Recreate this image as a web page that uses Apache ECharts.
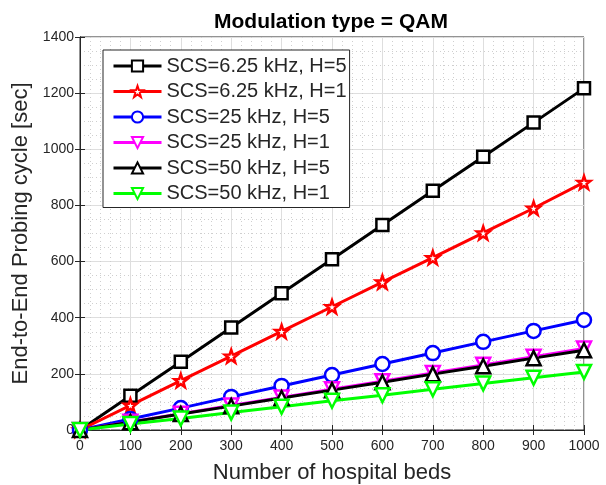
<!DOCTYPE html>
<html>
<head>
<meta charset="utf-8">
<script src="https://cdn.jsdelivr.net/npm/echarts@6/dist/echarts.min.js"></script>
<style>
  html, body { margin: 0; padding: 0; background: #fff; }
  #chart { width: 606px; height: 485px; }
</style>
</head>
<body>
<div id="chart"></div>
<script>
// hospital beds on x axis
var beds = [0, 100, 200, 300, 400, 500, 600, 700, 800, 900, 1000];
var yTicks = [0, 200, 400, 600, 800, 1000, 1200, 1400];

var seriesNames = [
  "SCS=6.25 kHz, H=5",
  "SCS=6.25 kHz, H=1",
  "SCS=25 kHz, H=5",
  "SCS=25 kHz, H=1",
  "SCS=50 kHz, H=5",
  "SCS=50 kHz, H=1"
];
var scs625h5 = [0, 122, 243, 365, 487, 608, 730, 852, 973, 1095, 1217];
var scs625h1 = [0, 88, 176, 263, 351, 439, 527, 614, 702, 790, 882];
var scs25h5 = [0, 39, 78, 118, 157, 196, 235, 274, 314, 353, 392];
var scs25h1 = [0, 29, 58, 87, 116, 145, 174, 203, 232, 261, 290];
var scs50h5 = [0, 28, 57, 85, 114, 142, 170, 199, 227, 256, 284];
var scs50h1 = [0, 21, 41, 62, 83, 104, 124, 145, 166, 186, 207];

var colors = ["#000000", "#ff0000", "#0000ff", "#ff00ff", "#000000", "#00ff00"];
var starPath = "path://M0,-100L23.5,-32.4L95.1,-30.9L38,12.4L58.8,80.9L0,40L-58.8,80.9L-38,12.4L-95.1,-30.9L-23.5,-32.4Z";
var downTri = "path://M0,0L10,0L5,8.7Z";
var symbols = ["rect", starPath, "circle", downTri, "triangle", downTri];
var sizes = [12, 13, 14, 14, 14, 14];
var allData = [scs625h5, scs625h1, scs25h5, scs25h1, scs50h5, scs50h1];

var txt = "#262626";
var font = "Liberation Sans, Arial, sans-serif";

var series = allData.map(function (vals, i) {
  return {
    name: seriesNames[i],
    type: "line",
    data: vals.map(function (v, j) { return [beds[j], v]; }),
    symbol: symbols[i],
    symbolSize: sizes[i],
    showAllSymbol: true,
    lineStyle: { color: colors[i], width: 3 },
    itemStyle: { color: "#ffffff", borderColor: colors[i], borderWidth: 2.5 },
    emphasis: { disabled: true },
    animation: false
  };
});

function plain(v) { return String(v); }

var chart = echarts.init(document.getElementById("chart"));
chart.setOption({
  animation: false,
  title: {
    text: "Modulation type = QAM",
    left: 326,
    top: 7,
    textAlign: "center",
    textStyle: { fontFamily: font, fontSize: 21, fontWeight: "bold", color: "#000" }
  },
  grid: {
    left: 80, right: 22, top: 37, bottom: 55,
    outerBoundsMode: "none",
    containLabel: false,
    show: true, borderColor: txt, borderWidth: 1
  },
  legend: {
    data: seriesNames,
    orient: "vertical",
    left: 103,
    top: 50,
    padding: [6, 3, 4, 9],
    itemGap: 5.5,
    itemWidth: 48,
    itemHeight: 14,
    backgroundColor: "#ffffff",
    borderColor: txt,
    borderWidth: 1,
    borderRadius: 0,
    lineStyle: { width: 3 },
    textStyle: { fontFamily: font, fontSize: 20, lineHeight: 20, color: txt }
  },
  xAxis: [{
    type: "value",
    min: 0, max: 1000, interval: 100,
    name: "Number of hospital beds",
    nameLocation: "middle",
    nameGap: 32,
    nameTextStyle: { fontFamily: font, fontSize: 22, color: txt },
    axisLine: { show: true, lineStyle: { color: txt } },
    axisTick: { show: true, inside: true, length: 5, lineStyle: { color: txt } },
    axisLabel: { fontFamily: font, fontSize: 14, color: txt, margin: 9, formatter: plain },
    splitLine: { show: true, lineStyle: { color: "#dedede", width: 1 } },
    minorTick: { show: false, splitNumber: 5 },
    minorSplitLine: { show: true, lineStyle: { color: "#cfcfcf", type: [1, 3], width: 1 } }
  }, {
    type: "value", position: "top",
    min: 0, max: 1000, interval: 100,
    axisLine: { show: true, lineStyle: { color: txt } },
    axisTick: { show: true, inside: true, length: 5, lineStyle: { color: txt } },
    axisLabel: { show: false },
    splitLine: { show: false }
  }],
  yAxis: [{
    type: "value",
    min: 0, max: 1400, interval: 200,
    name: "End-to-End Probing cycle [sec]",
    nameLocation: "middle",
    nameGap: 45,
    nameTextStyle: { fontFamily: font, fontSize: 22, color: txt },
    axisLine: { show: true, lineStyle: { color: txt } },
    axisTick: { show: true, inside: true, length: 5, lineStyle: { color: txt } },
    axisLabel: { fontFamily: font, fontSize: 14, color: txt, margin: 6, formatter: plain },
    splitLine: { show: true, lineStyle: { color: "#dedede", width: 1 } },
    minorTick: { show: false, splitNumber: 4 },
    minorSplitLine: { show: true, lineStyle: { color: "#cfcfcf", type: [1, 3], width: 1 } }
  }, {
    type: "value", position: "right",
    min: 0, max: 1400, interval: 200,
    axisLine: { show: true, lineStyle: { color: txt } },
    axisTick: { show: true, inside: true, length: 5, lineStyle: { color: txt } },
    axisLabel: { show: false },
    splitLine: { show: false }
  }],
  series: series
});
</script>
</body>
</html>
